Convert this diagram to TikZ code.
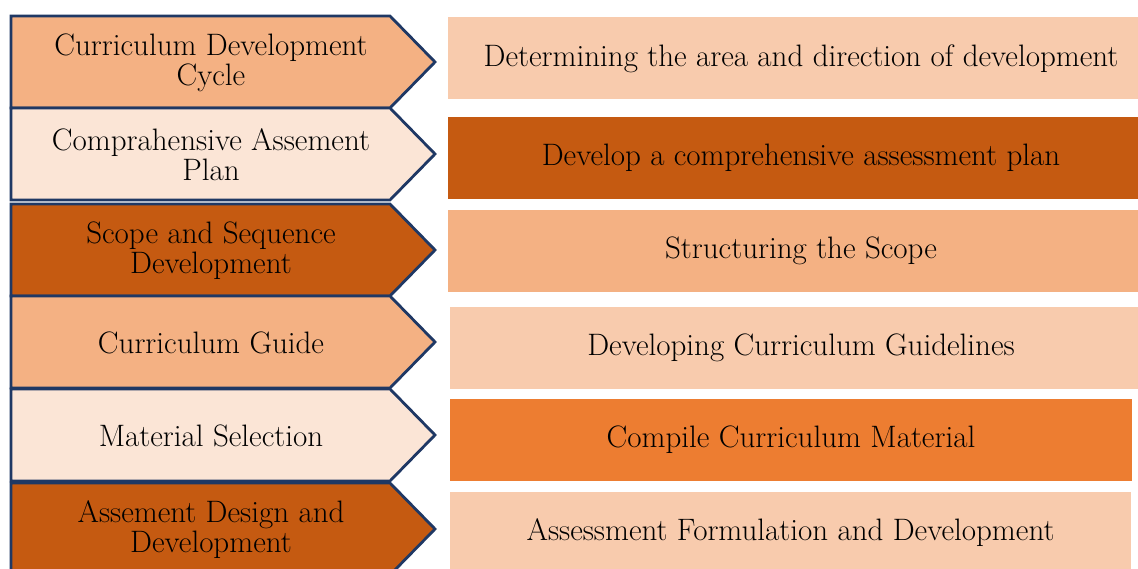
\documentclass[tikz,border=0pt]{standalone}
\usetikzlibrary{calc}
\definecolor{navy}{HTML}{1F3864}
\definecolor{peachA}{HTML}{F4B183}
\definecolor{peachB}{HTML}{F8CBAD}
\definecolor{cream}{HTML}{FBE5D6}
\definecolor{rust}{HTML}{C55A11}
\definecolor{tangerine}{HTML}{ED7D31}

\tikzset{
  chevron/.style={draw=navy, line width=2.8pt, line join=miter},
  steptext/.style={align=center, font=\fontsize{31}{30}\selectfont, inner sep=0pt},
  bar/.style={rectangle, draw=none, inner sep=0pt, minimum height=82pt,
              font=\fontsize{31}{30}\selectfont},
}

% one step of the left column: a chevron with its label
\newcommand\chevronstep[4]{%
  \draw[chevron, fill=#2] (11,#1) -- (390,#1) -- (435,#1+46) -- (390,#1+92)
        -- (11,#1+92) -- cycle;
  \node[steptext] (#3) at (211,#1+47) {#4};
}

\begin{document}
\begin{tikzpicture}[x=1pt,y=-1pt]
\useasboundingbox (0,0) rectangle (1138,569);
\clip (0,0) rectangle (1138,569);
\fill[white] (0,0) rectangle (1138,569);

% left column
\chevronstep{16}{peachA}{s1}{Curriculum Development\\Cycle}
\chevronstep{108}{cream}{s2}{Comprahensive Assement\\Plan}
\chevronstep{204}{rust}{s3}{Scope and Sequence\\Development}
\chevronstep{296}{peachA}{s4}{Curriculum Guide}
\chevronstep{389}{cream}{s5}{Material Selection}
\chevronstep{483}{rust}{s6}{Assement Design and\\Development}

% right column
\node[bar, fill=peachB, minimum width=706pt] (r1) at (801,58.5) {Determining the area and direction of development};
\node[bar, fill=rust, minimum width=706pt] (r2) at (801,158) {Develop a comprehensive assessment plan};
\node[bar, fill=peachA, minimum width=706pt] (r3) at (801,251) {Structuring the Scope};
\node[bar, fill=peachB, minimum width=702pt] (r4) at (801,348) {Developing Curriculum Guidelines};
\node[bar, fill=tangerine, minimum width=682pt] (r5) at (791,440) {Compile Curriculum Material};
\node[bar, fill=peachB, minimum width=681pt] (r6) at (790.5,533) {Assessment Formulation and Development};
\end{tikzpicture}
\end{document}
